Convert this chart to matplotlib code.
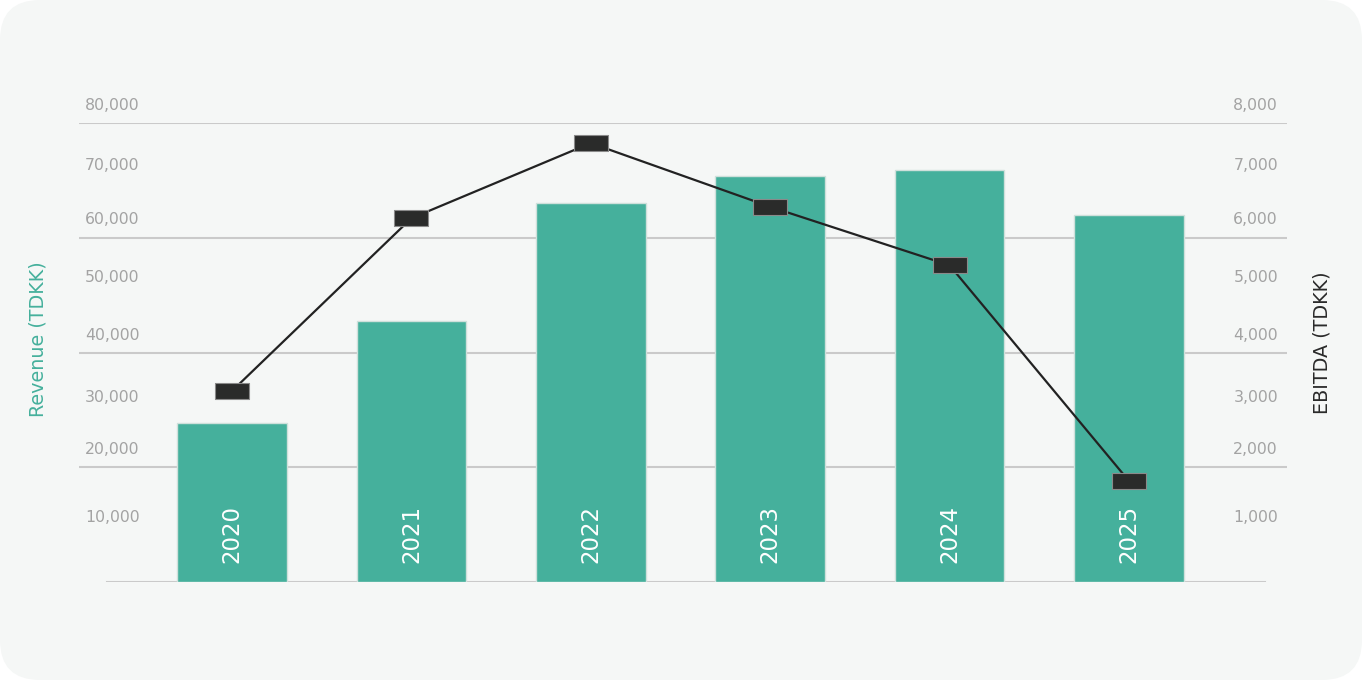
import matplotlib
matplotlib.use("Agg")
import matplotlib.pyplot as plt
from matplotlib.patches import FancyBboxPatch
from matplotlib.path import Path
import numpy as np

years = ["2020", "2021", "2022", "2023", "2024", "2025"]
revenue = [27700, 45500, 66000, 70800, 71800, 64000]
ebitda = [3330, 6340, 7650, 6540, 5520, 1760]
left_ticks = ["80,000", "70,000", "60,000", "50,000", "40,000", "30,000", "20,000", "10,000"]
right_ticks = ["8,000", "7,000", "6,000", "5,000", "4,000", "3,000", "2,000", "1,000"]
tick_label_y_px = [105, 166, 220, 278, 335, 397, 450, 518]

W, H = 1362, 680
fig = plt.figure(figsize=(W / 100, H / 100), dpi=100)
fig.patch.set_facecolor("white")

bgax = fig.add_axes([0, 0, 1, 1], zorder=-10)
bgax.set_xlim(0, W)
bgax.set_ylim(0, H)
bgax.axis("off")
bgax.add_patch(FancyBboxPatch((0, 0), W, H, boxstyle="round,pad=0,rounding_size=40",
                              facecolor="#f5f7f6", edgecolor="none"))

ax_left, ax_right_px, ax_top, ax_bot = 79, 1287, 123, 582
ax = fig.add_axes([ax_left / W, (H - ax_bot) / H, (ax_right_px - ax_left) / W, (ax_bot - ax_top) / H])
ax.patch.set_alpha(0)
for s in ax.spines.values():
    s.set_visible(False)

x = np.arange(len(years))
ax.set_xlim(-0.853, 5.881)
ax.set_ylim(0, 80000)

for g in [20000, 40000, 60000, 80000]:
    ax.axhline(g, color="#cacaca", lw=1.5, zorder=1)
ax.axhline(0, xmin=0.023, xmax=0.982, color="#cacaca", lw=1.5, zorder=1)

ax.bar(x, revenue, width=0.61, color="#45b09c", edgecolor="#cfe0db", linewidth=1.0, zorder=2)
for i, y in enumerate(years):
    ax.text(x[i], 3300, y, rotation=90, ha="center", va="bottom", color="white",
            fontsize=16.5, family="DejaVu Sans", zorder=3)
ax.set_xticks([])
ax.set_yticks([])

ax2 = ax.twinx()
ax2.set_ylim(0, 8000)
ax2.set_xlim(ax.get_xlim())
ax2.patch.set_alpha(0)
for s in ax2.spines.values():
    s.set_visible(False)
ax2.set_yticks([])

rect = Path([(-1, -0.45), (1, -0.45), (1, 0.45), (-1, 0.45), (-1, -0.45)],
            [Path.MOVETO, Path.LINETO, Path.LINETO, Path.LINETO, Path.CLOSEPOLY])
ax2.plot(x, ebitda, color="#222222", lw=1.6, zorder=4)
ax2.plot(x, ebitda, linestyle="none", marker=rect, markersize=24,
         markerfacecolor="#2a2b2a", markeredgecolor="#8a8a8a", markeredgewidth=0.8, zorder=5)

for lbl, ypx in zip(left_ticks, tick_label_y_px):
    fig.text(85 / W, (H - ypx) / H, lbl, ha="left", va="center", color="#a3a3a3", fontsize=11.3)
for lbl, ypx in zip(right_ticks, tick_label_y_px):
    fig.text(1278 / W, (H - ypx) / H, lbl, ha="right", va="center", color="#a3a3a3", fontsize=11.3)

fig.text(38 / W, (H - 339) / H, "Revenue (TDKK)", rotation=90, ha="center", va="center",
         color="#45b09c", fontsize=13.8)
fig.text(1322 / W, (H - 343) / H, "EBITDA (TDKK)", rotation=90, ha="center", va="center",
         color="#2a2a2a", fontsize=13.8)

fig.savefig("out.png", dpi=100, facecolor="white")
